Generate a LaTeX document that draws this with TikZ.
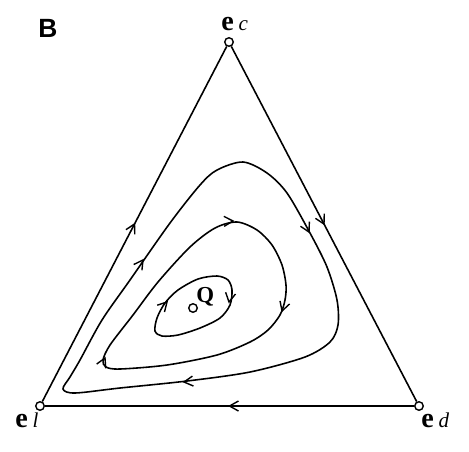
\documentclass[tikz,border=0pt]{standalone}
\usepackage{fontspec}
\setmainfont{Liberation Serif}
\setsansfont{Liberation Sans}
\usetikzlibrary{arrows.meta,positioning,decorations.markings}
\tikzset{
  x=0.02cm, y=-0.02cm,
  vertex/.style={circle, draw, fill=white, line width=0.8pt, inner sep=0pt, minimum size=0.17cm},
  vlabel/.style={inner sep=0pt, anchor=base west, font=\fontsize{16}{18}\selectfont},
  panel/.style={inner sep=0pt, font=\sffamily\bfseries\fontsize{15}{17}\selectfont},
  barb/.pic={\draw[line width=0.8pt] (-9,5) -- (0,0) -- (-9,-5);},
  edge/.style={line width=0.9pt, postaction={decorate},
    decoration={markings, mark=at position 0.5 with {\draw[line width=0.8pt] (-9,5) -- (0,0) -- (-9,-5);}}},
  orbit/.style={line width=0.9pt}
}
\newcommand{\corner}[1]{{\bfseries e}\,{\fontsize{12}{14}\selectfont\itshape #1}}

\begin{document}
\begin{tikzpicture}
\useasboundingbox (0,0) rectangle (469,451);
\node[panel] (tag) at (48,28) {B};
% corners of the simplex
\node[vertex] (ec) at (229,42) {};
\node[vertex] (el) at (40,406) {};
\node[vertex] (ed) at (419,406) {};
\node[vlabel] (ecl) at (221,30) {\corner{c}};
\node[vlabel] (ell) at (15,427) {\corner{l}};
\node[vlabel] (edl) at (421,427) {\corner{d}};
\draw[edge] (el) -- (ec);
\draw[edge] (ec) -- (ed);
\draw[edge] (ed) -- (el);
% interior fixed point
\node[vertex] (q) at (193,308) {};
\node[vlabel, font=\bfseries\fontsize{13}{15}\selectfont] (ql) at (196,302) {Q};
% closed orbits around Q
\draw[orbit] plot[smooth cycle] coordinates {(243,162) (267,173) (287,193) (310,233) (327,267)
  (337,300) (338,325) (330,342) (305,357) (250,372) (187,381) (120,388) (75,393) (63,389)
  (70,377) (80,360) (102,320) (130,280) (170,223) (200,185) (217,170)};
\draw[orbit] plot[smooth cycle] coordinates {(237,222) (257,230) (272,245) (282,265) (286,285)
  (285,300) (280,315) (268,330) (250,342) (217,355) (167,365) (120,369) (106,367) (103,360)
  (110,345) (133,315) (158,282) (190,247) (215,228)};
\draw[orbit] plot[smooth cycle] coordinates {(217,276) (228,280) (232,290) (230,305) (220,318)
  (200,328) (178,335) (162,336) (155,331) (157,318) (165,303) (178,290) (198,279)};
\pic[rotate=55] at (143,260) {barb};
\pic[rotate=-63] at (309,232) {barb};
\pic[rotate=186] at (184,382) {barb};
\pic[rotate=2] at (233,221) {barb};
\pic[rotate=-108] at (282,311) {barb};
\pic[rotate=65] at (105,358) {barb};
\pic[rotate=47] at (167,302) {barb};
\pic[rotate=-100] at (229,302) {barb};
\end{tikzpicture}
\end{document}
